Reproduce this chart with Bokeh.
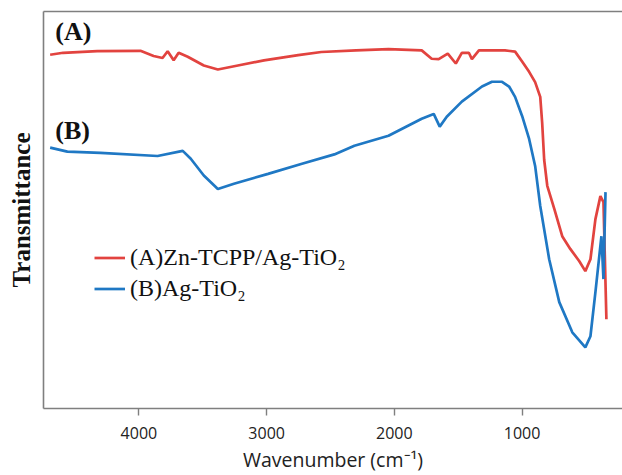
from bokeh.plotting import figure
from bokeh.models import Range1d, FixedTicker, LinearAxis, Legend, LegendItem, Label
from bokeh.embed import file_html
from bokeh.resources import INLINE

# ---- data (wavenumber cm^-1, transmittance a.u.) ----
wn_a = [4695, 4593, 4326, 3988, 3885, 3815, 3775, 3728, 3689, 3618, 3492, 3382,
        3225, 3021, 2753, 2572, 2300, 2046, 1786, 1708, 1653, 1582, 1519, 1472,
        1417, 1393, 1338, 1134, 1055, 1000, 945, 898, 858, 843, 827, 803, 748,
        686, 623, 552, 505, 465, 426, 387, 363, 340]
tr_a = [89.1, 89.6, 90.0, 90.1, 88.8, 88.3, 90.0, 87.7, 89.6, 88.6, 86.4, 85.4,
        86.4, 87.7, 89.0, 89.8, 90.2, 90.5, 90.2, 88.1, 88.0, 89.4, 86.9, 89.6,
        89.6, 88.0, 90.2, 90.2, 89.9, 87.4, 84.8, 82.2, 78.5, 72.0, 62.6, 56.1,
        50.3, 43.4, 40.2, 37.1, 34.6, 37.6, 47.7, 53.5, 52.0, 22.5]

wn_b = [4695, 4560, 4302, 3854, 3657, 3594, 3492, 3382, 3256, 2989, 2730, 2470,
        2313, 2046, 1786, 1692, 1645, 1590, 1472, 1314, 1236, 1157, 1102, 1055,
        1000, 945, 898, 858, 788, 709, 607, 505, 465, 426, 379, 363, 347]
tr_b = [65.7, 64.7, 64.4, 63.6, 64.9, 62.9, 58.7, 55.3, 56.6, 59.1, 61.6, 64.0,
        66.2, 68.7, 73.0, 74.2, 71.0, 73.5, 77.3, 81.1, 82.3, 82.3, 81.1, 78.5,
        73.7, 67.9, 61.1, 51.0, 37.6, 26.8, 19.2, 15.4, 18.2, 29.3, 43.4, 32.6, 54.5]

x_ticks = [4000, 3000, 2000, 1000]
series_names = ["(A)Zn-TCPP/Ag-TiO\u2082", "(B)Ag-TiO\u2082"]
panel_tags = ["(A)", "(B)"]

RED = "#E2433F"
BLUE = "#1F78C4"
GRAY = "#7F7F7F"

p = figure(width=622, height=475, output_backend="svg", toolbar_location=None,
           x_range=Range1d(4747, 214), y_range=Range1d(0, 100),
           min_border_left=43, min_border_right=0, min_border_top=11,
           min_border_bottom=66)
p.outline_line_color = None
p.xgrid.grid_line_color = None
p.ygrid.grid_line_color = None
p.background_fill_color = "white"
p.border_fill_color = "white"

la = p.line(wn_a, tr_a, line_color=RED, line_width=2.7)
lb = p.line(wn_b, tr_b, line_color=BLUE, line_width=2.7)

# x axis
xa = p.xaxis[0]
xa.ticker = FixedTicker(ticks=x_ticks)
xa.axis_line_color = GRAY
xa.axis_line_width = 1.6
xa.major_tick_line_color = GRAY
xa.major_tick_line_width = 1.4
xa.major_tick_out = 7
xa.major_tick_in = 0
xa.minor_tick_line_color = None
xa.major_label_text_font = "Open Sans"
xa.major_label_text_font_size = "16px"
xa.major_label_text_color = "#222222"
xa.major_label_standoff = 11
xa.axis_label = "Wavenumber (cm\u207b\u00b9)"
xa.axis_label_text_font = "Open Sans"
xa.axis_label_text_font_size = "19.5px"
xa.axis_label_text_font_style = "normal"
xa.axis_label_text_color = "#222222"
xa.axis_label_standoff = 4

# y axis
ya = p.yaxis[0]
ya.ticker = FixedTicker(ticks=[])
ya.axis_line_color = GRAY
ya.axis_line_width = 1.6
ya.major_tick_line_color = None
ya.minor_tick_line_color = None
ya.major_label_text_font_size = "0px"
ya.major_label_standoff = 0
ya.axis_label = "Transmittance"
ya.axis_label_text_font = "Liberation Serif"
ya.axis_label_text_font_size = "25px"
ya.axis_label_text_font_style = "bold"
ya.axis_label_text_color = "#111111"
ya.axis_label_standoff = 9

# top border line
top = LinearAxis(ticker=FixedTicker(ticks=[]), axis_line_color=GRAY, axis_line_width=1.6,
                 major_tick_line_color=None, minor_tick_line_color=None,
                 major_tick_out=0, major_tick_in=0, major_label_standoff=0,
                 axis_label_standoff=0, major_label_text_font_size="0px")
p.add_layout(top, "above")

legend = Legend(items=[LegendItem(label=series_names[0], renderers=[la]),
                       LegendItem(label=series_names[1], renderers=[lb])],
                location=(51, 104), orientation="vertical",
                border_line_color=None, background_fill_alpha=0,
                padding=0, margin=0, spacing=0,
                glyph_width=31, glyph_height=31, label_height=31,
                label_standoff=5,
                label_text_font="Liberation Serif", label_text_font_size="24px",
                label_text_color="#111111")
p.add_layout(legend, "center")

for tag, yv in zip(panel_tags, [94.9, 69.9]):
    p.add_layout(Label(x=4655, y=yv, text=tag, text_font="Liberation Serif",
                       text_font_size="26px", text_font_style="bold",
                       text_color="#111111", text_baseline="middle", text_align="left"))

open("out.html", "w").write(file_html(p, INLINE))
